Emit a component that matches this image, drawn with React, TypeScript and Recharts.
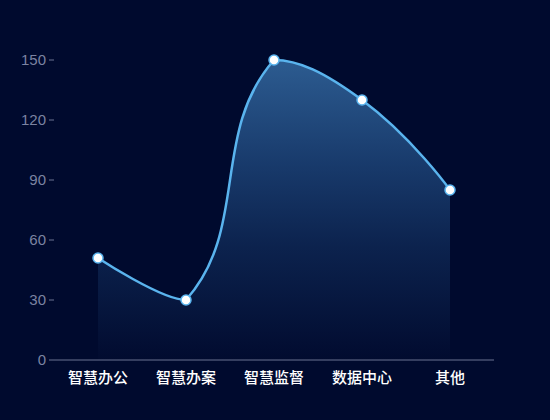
import { AreaChart, Area, XAxis, YAxis } from 'recharts';

const categories = ['智慧办公', '智慧办案', '智慧监督', '数据中心', '其他'];
const values = [51, 30, 150, 130, 85];
const yTicks = [0, 30, 60, 90, 120, 150];

const data = categories.map((name, i) => ({ name, value: values[i] }));

// smoothed curve: control points along the neighbour direction, kept inside the points' box
function smoothCurve(smooth: number) {
  return (ctx: any) => {
    let line = NaN;
    let pts: [number, number][] = [];
    return {
      areaStart() {
        line = 0;
      },
      areaEnd() {
        line = NaN;
      },
      lineStart() {
        pts = [];
      },
      point(x: number, y: number) {
        pts.push([+x, +y]);
      },
      lineEnd() {
        const n = pts.length;
        if (n) {
          const xs = pts.map((p) => p[0]);
          const ys = pts.map((p) => p[1]);
          const minX = Math.min(...xs);
          const maxX = Math.max(...xs);
          const minY = Math.min(...ys);
          const maxY = Math.max(...ys);
          const fit = (v: number, a: number, b: number) => Math.max(a, Math.min(b, v));
          const cps: [number, number][] = [];
          for (let i = 0; i < n; i++) {
            const [x, y] = pts[i];
            if (i === 0 || i === n - 1) {
              cps.push([x, y]);
              continue;
            }
            const [px, py] = pts[i - 1];
            const [nx, ny] = pts[i + 1];
            const vx = (nx - px) * smooth;
            const vy = (ny - py) * smooth;
            let d0 = Math.hypot(x - px, y - py);
            let d1 = Math.hypot(nx - x, ny - y);
            const sum = d0 + d1;
            if (sum) {
              d0 /= sum;
              d1 /= sum;
            }
            cps.push([fit(x - vx * d0, minX, maxX), fit(y - vy * d0, minY, maxY)]);
            cps.push([fit(x + vx * d1, minX, maxX), fit(y + vy * d1, minY, maxY)]);
          }
          if (line) ctx.lineTo(pts[0][0], pts[0][1]);
          else ctx.moveTo(pts[0][0], pts[0][1]);
          for (let i = 1; i < n; i++) {
            const c0 = cps[i === 1 ? 0 : (i - 1) * 2];
            const c1 = cps[i * 2 - 1];
            ctx.bezierCurveTo(c0[0], c0[1], c1[0], c1[1], pts[i][0], pts[i][1]);
          }
        }
        if (line || (line !== 0 && n === 1)) ctx.closePath();
        line = 1 - line;
      },
    };
  };
}

const curve = smoothCurve(0.5);

export default function App() {
  return (
    <div
      style={{
        position: 'fixed',
        top: 0,
        left: 0,
        width: 550,
        height: 420,
        background: '#000a2e',
      }}
    >
      <AreaChart
        width={550}
        height={420}
        data={data}
        margin={{ top: 60, right: 56, bottom: 30, left: 0 }}
      >
        <defs>
          <linearGradient id="gradArea" x1="0" y1="0" x2="0" y2="1">
            <stop offset="0%" stopColor="#4a92d2" />
            <stop offset="35%" stopColor="#285a94" />
            <stop offset="62%" stopColor="#143363" />
            <stop offset="100%" stopColor="#020c30" />
          </linearGradient>
        </defs>
        <XAxis
          dataKey="name"
          height={30}
          padding={{ left: 44, right: 44 }}
          axisLine={{ stroke: '#6b7391' }}
          tickLine={false}
          tickMargin={6}
          tick={{
            fill: '#ffffff',
            fontSize: 15,
            fontWeight: 500,
            fontFamily: 'Noto Sans CJK SC',
          }}
        />
        <YAxis
          width={54}
          domain={[0, 150]}
          ticks={yTicks}
          axisLine={false}
          tickLine={{ stroke: '#6b7391' }}
          tickSize={5}
          tickMargin={3}
          tick={{ fill: '#7b83a1', fontSize: 15, fontFamily: 'Liberation Sans, Arial' }}
        />
        <Area
          type={curve as any}
          dataKey="value"
          stroke="#5ab4ee"
          strokeWidth={2.5}
          fill="url(#gradArea)"
          isAnimationActive={false}
          dot={{ r: 5, fill: '#ffffff', stroke: '#5ab4ee', strokeWidth: 1.5, fillOpacity: 1 }}
        />
      </AreaChart>
    </div>
  );
}
